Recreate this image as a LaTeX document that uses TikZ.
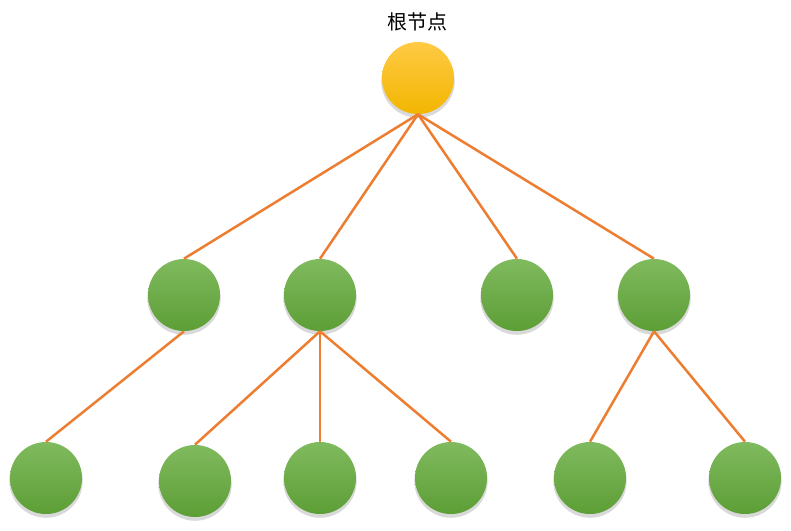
\documentclass[tikz,border=0pt]{standalone}
\usepackage{fontspec}
\newfontfamily\cjk{Noto Sans CJK SC}
\usetikzlibrary{shadows}
\definecolor{edgeorange}{HTML}{ED7D31}
\definecolor{leaftop}{HTML}{80BA5E}
\definecolor{leafbot}{HTML}{5C9E36}
\definecolor{roottop}{HTML}{FFCA45}
\definecolor{rootbot}{HTML}{F2B600}

\begin{document}
\begin{tikzpicture}[x=1pt,y=-1pt,semithick]
\tikzstyle{leaf}=[circle,minimum size=72pt,inner sep=0pt,top color=leaftop,bottom color=leafbot,draw=none,
  drop shadow={shadow xshift=0pt,shadow yshift=-3pt,shadow scale=1.02,opacity=.3}]
\tikzstyle{rootnode}=[leaf,top color=roottop,bottom color=rootbot]
\tikzstyle{branch}=[draw=edgeorange,line width=2.5pt]
\useasboundingbox (0,0) rectangle (791,530);
% root
\node[rootnode] (R) at (418,78) {};
\node[font=\cjk\fontsize{20}{24}\selectfont] (Rl) at (417,22) {根节点};
% second level
\node[leaf] (A) at (184,295) {};
\node[leaf] (B) at (320,295) {};
\node[leaf] (C) at (517,295) {};
\node[leaf] (D) at (654,295) {};
% third level
\node[leaf] (A1) at (46,478) {};
\node[leaf] (B1) at (195,481) {};
\node[leaf] (B2) at (320,478) {};
\node[leaf] (B3) at (451,478) {};
\node[leaf] (D1) at (590,478) {};
\node[leaf] (D2) at (745,478) {};

\path[branch]
(R.south) edge (A.north)
          edge (B.north)
          edge (C.north)
          edge (D.north)
(A.south) edge (A1.north)
(B.south) edge (B1.north)
          edge (B2.north)
          edge (B3.north)
(D.south) edge (D1.north)
          edge (D2.north)
;
\end{tikzpicture}
\end{document}
